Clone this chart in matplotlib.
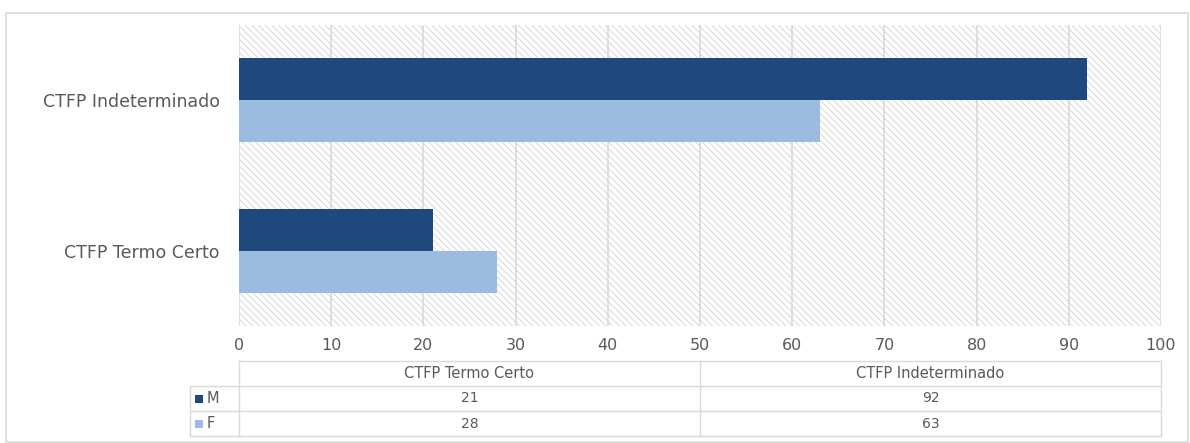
import numpy as np
import matplotlib as mpl
mpl.use('Agg')
import matplotlib.pyplot as plt
from matplotlib.patches import Rectangle
from matplotlib.lines import Line2D

plt.rcParams['font.family'] = ['DejaVu Sans']

# data
categories = ['CTFP Termo Certo', 'CTFP Indeterminado']
series_names = ['M', 'F']
values_m = [21, 92]
values_f = [28, 63]
x_ticks = [0, 10, 20, 30, 40, 50, 60, 70, 80, 90, 100]

col_m = '#1F497D'
col_f = '#9BBBE0'
txt = '#595959'
grid = '#d9d9d9'

W, H = 1190, 443
fig = plt.figure(figsize=(W / 100, H / 100), dpi=100)
fig.patch.set_facecolor('white')

def fx(px):
    return px / W

def fy(py):
    return 1 - py / H

# outer chart border
fig.add_artist(Rectangle((fx(6), fy(442)), fx(1188) - fx(6), fy(13) - fy(442),
                         transform=fig.transFigure, fill=False,
                         edgecolor=grid, linewidth=1.2))

left, right, top, bottom = 239, 1161, 25, 326
ax = fig.add_axes([fx(left), fy(bottom), fx(right) - fx(left), fy(top) - fy(bottom)])
ax.set_xlim(0, 100)
ax.set_ylim(-0.5, 1.5)

# hatched plot area
plt.rcParams['hatch.linewidth'] = 0.5
ax.patch.set_visible(False)
bg = Rectangle((0, 0), 1, 1, transform=ax.transAxes, facecolor='white',
               edgecolor='#c8c8c8', linewidth=0, hatch='\\\\\\\\\\', zorder=0)
ax.add_patch(bg)

for xt in x_ticks:
    ax.axvline(xt, color=grid, linewidth=1.2, zorder=1)

y = np.arange(len(categories))
h = 0.28
ax.barh(y + h / 2, values_m, height=h, color=col_m, zorder=2)
ax.barh(y - h / 2, values_f, height=h, color=col_f, zorder=2)

ax.set_xticks(x_ticks)
ax.set_xticklabels([str(v) for v in x_ticks], fontsize=11.5, color=txt)
ax.set_yticks(y)
ax.set_yticklabels(categories, fontsize=12.5, color=txt)
ax.tick_params(axis='both', length=0)
ax.tick_params(axis='x', pad=9)
ax.tick_params(axis='y', pad=14)
for s in ax.spines.values():
    s.set_visible(False)

# data table below the chart
rows_y = [361, 386, 411, 436]
x_leg, x0, x_mid, x1 = 190, 239, 700, 1161
lw = 1.0
def hline(yp, xa, xb):
    fig.add_artist(Line2D([fx(xa), fx(xb)], [fy(yp), fy(yp)], transform=fig.transFigure,
                          color=grid, linewidth=lw))
def vline(xp, ya, yb):
    fig.add_artist(Line2D([fx(xp), fx(xp)], [fy(ya), fy(yb)], transform=fig.transFigure,
                          color=grid, linewidth=lw))

hline(rows_y[0], x0, x1)
for r in rows_y[1:]:
    hline(r, x_leg, x1)
vline(x_leg, rows_y[1], rows_y[3])
vline(x0, rows_y[0], rows_y[3])
vline(x_mid, rows_y[0], rows_y[3])
vline(x1, rows_y[0], rows_y[3])

col_centers = [(x0 + x_mid) / 2, (x_mid + x1) / 2]
for i, c in enumerate(categories):
    fig.text(fx(col_centers[i]), fy((rows_y[0] + rows_y[1]) / 2), c,
             ha='center', va='center', fontsize=10.5, color=txt)

series_vals = [values_m, values_f]
series_cols = [col_m, col_f]
for r, name in enumerate(series_names):
    yc = (rows_y[r + 1] + rows_y[r + 2]) / 2
    fig.add_artist(Rectangle((fx(195), fy(yc + 4)), fx(8), fy(0) - fy(8),
                             transform=fig.transFigure, facecolor=series_cols[r],
                             edgecolor='none'))
    fig.text(fx(207), fy(yc), name, ha='left', va='center', fontsize=10.5, color=txt)
    for i in range(len(categories)):
        fig.text(fx(col_centers[i]), fy(yc), str(series_vals[r][i]),
                 ha='center', va='center', fontsize=10, color=txt)

fig.savefig('out.png', dpi=100)
